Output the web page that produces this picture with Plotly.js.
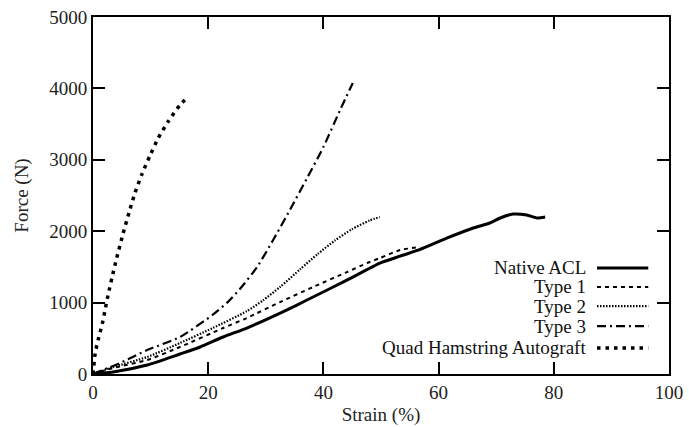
<!DOCTYPE html>
<html>
<head>
<meta charset="utf-8">
<script src="https://cdn.plot.ly/plotly-3.0.1.min.js"></script>
<style>html,body{margin:0;padding:0;background:#fff;}#chart{width:689px;height:427px;}</style>
</head>
<body>
<div id="chart"></div>
<script>
// Data
const seriesNames = ["Native ACL", "Type 1", "Type 2", "Type 3", "Quad Hamstring Autograft"];

const nativeX = [0, 3.5, 9.4, 15.1, 18.6, 22.6, 26.7, 32.5, 35.4, 38.2, 41.7, 45.1, 48.1, 49.8, 53.3, 56.8, 61.5, 66, 68.9, 70.7, 72.9, 75.3, 77.1, 78.5];
const nativeY = [0, 28, 126, 280, 378, 518, 644, 854, 966, 1078, 1218, 1358, 1484, 1554, 1650, 1745, 1905, 2045, 2115, 2185, 2240, 2227, 2185, 2199];

const type1X = [0, 3.5, 9.4, 15.1, 22.6, 26.7, 32.5, 38.2, 44.1, 47.6, 49.8, 53.3, 56.8];
const type1Y = [0, 84, 196, 378, 644, 784, 1008, 1218, 1428, 1554, 1624, 1736, 1778];

const type2X = [0, 3.5, 9.4, 15.1, 20.8, 26.7, 29.5, 32.5, 36, 39, 42, 45, 48, 49.8];
const type2Y = [0, 98, 238, 434, 644, 880, 1030, 1220, 1470, 1680, 1870, 2030, 2150, 2199];

const type3X = [0, 4.7, 9.4, 15.1, 20.8, 23.3, 25.5, 28.5, 31.3, 34.2, 37.2, 40, 42.9, 45.1];
const type3Y = [0, 154, 336, 518, 830, 1000, 1190, 1500, 1880, 2300, 2750, 3179, 3697, 4075];

const quadX = [0, 0.4, 0.9, 1.6, 2.1, 2.6, 3.3, 4.1, 5.2, 6.4, 7.3, 8.5, 9.9, 11.3, 13.0, 15.1, 16.1];
const quadY = [0, 300, 480, 700, 900, 1100, 1350, 1620, 1960, 2300, 2540, 2800, 3060, 3300, 3530, 3767, 3850];

const xTicks = [0, 20, 40, 60, 80, 100];
const yTicks = [0, 1000, 2000, 3000, 4000, 5000];

const styles = [
  {width: 3, dash: "solid"},
  {width: 2, dash: "4px,4px"},
  {width: 2.2, dash: "1.5px,1.5px"},
  {width: 2.2, dash: "9px,4px,2px,4px"},
  {width: 3.5, dash: "3.5px,5px"}
];

const xs = [nativeX, type1X, type2X, type3X, quadX];
const ys = [nativeY, type1Y, type2Y, type3Y, quadY];

const traces = xs.map((x, i) => ({
  x: x, y: ys[i], name: seriesNames[i], type: "scatter", mode: "lines",
  line: {color: "#000", width: styles[i].width, dash: styles[i].dash, shape: "spline", smoothing: 0.6},
  showlegend: false
}));

const font = "Liberation Serif, Times New Roman, serif";
const legY = [0.297, 0.244, 0.190, 0.134, 0.073];
const annotations = seriesNames.map((n, i) => ({
  xref: "paper", yref: "paper", x: 0.859, y: legY[i], xanchor: "right", yanchor: "middle",
  text: n, showarrow: false, font: {family: font, size: 19, color: "#111"}
}));
const shapes = seriesNames.map((n, i) => ({
  type: "line", xref: "paper", yref: "paper", x0: 0.875, x1: 0.964, y0: legY[i], y1: legY[i],
  line: {color: "#000", width: styles[i].width, dash: styles[i].dash}
}));

const axisCommon = {
  showgrid: false, zeroline: false, showline: true, linecolor: "#000", linewidth: 2,
  mirror: "ticks", ticks: "inside", ticklen: 12, tickwidth: 2, tickcolor: "#000",
  tickfont: {family: font, size: 19, color: "#222"}
};

const layout = {
  width: 689, height: 427,
  margin: {l: 93, r: 20, t: 17, b: 53},
  paper_bgcolor: "#fff", plot_bgcolor: "#fff",
  xaxis: Object.assign({}, axisCommon, {
    range: [0, 100], tickvals: xTicks, ticktext: xTicks.map(String),
    title: {text: "Strain (%)", font: {family: font, size: 19, color: "#222"}, standoff: 6}
  }),
  yaxis: Object.assign({}, axisCommon, {
    range: [0, 5000], tickvals: yTicks, ticktext: yTicks.map(String),
    title: {text: "Force (N)", font: {family: font, size: 19, color: "#222"}, standoff: 16}
  }),
  annotations: annotations,
  shapes: shapes
};

Plotly.newPlot("chart", traces, layout, {displayModeBar: false, staticPlot: true});
</script>
</body>
</html>
